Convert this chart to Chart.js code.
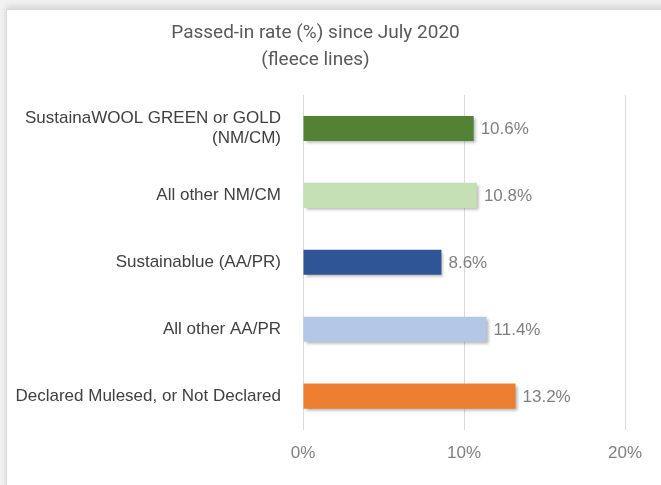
<!DOCTYPE html>
<html>
<head>
<meta charset="utf-8">
<script src="https://cdn.jsdelivr.net/npm/chart.js@4"></script>
<style>
  html, body { margin: 0; padding: 0; background: #f2f2f2; }
  #card { position: absolute; left: 6px; top: 9px; width: 661px; height: 480px; background: #fff;
          border: 1px solid #d9d9d9; box-shadow: 0 -3px 6px rgba(0,0,0,0.12); }
  #wrap { position: absolute; left: 0; top: 0; width: 661px; height: 485px; }
</style>
</head>
<body>
<div id="card"></div>
<div id="wrap"><canvas id="chart" width="661" height="485"></canvas></div>
<script>
var categories = [
  ['SustainaWOOL GREEN or GOLD', '(NM/CM)'],
  'All other NM/CM',
  'Sustainablue (AA/PR)',
  'All other AA/PR',
  'Declared Mulesed, or Not Declared'
];
var passedInRate = [10.6, 10.8, 8.6, 11.4, 13.2];
var barColors = ['#548235', '#c5e0b4', '#2f5597', '#b4c7e7', '#ed7d31'];
var xTicks = [0, 10, 20];

var FONT = "'Liberation Sans', Arial, sans-serif";
var TITLE_FONT = "Roboto, 'Liberation Sans', sans-serif";

// Draw value labels at the end of each bar
var valueLabels = {
  id: 'valueLabels',
  afterDatasetsDraw: function(chart) {
    var ctx = chart.ctx;
    var meta = chart.getDatasetMeta(0);
    ctx.save();
    ctx.font = '17px ' + FONT;
    ctx.fillStyle = '#7f7f7f';
    ctx.textBaseline = 'middle';
    meta.data.forEach(function(bar, i) {
      ctx.fillText(passedInRate[i].toFixed(1) + '%', bar.x + 7, bar.y + 1);
    });
    ctx.restore();
  }
};

// Soft shadow under bars
var barShadow = {
  id: 'barShadow',
  beforeDatasetsDraw: function(chart) {
    chart.ctx.save();
    chart.ctx.shadowColor = 'rgba(0,0,0,0.3)';
    chart.ctx.shadowBlur = 3;
    chart.ctx.shadowOffsetX = 2;
    chart.ctx.shadowOffsetY = 2;
  },
  afterDatasetsDraw: function(chart) {
    chart.ctx.restore();
  }
};

new Chart(document.getElementById('chart').getContext('2d'), {
  type: 'bar',
  data: {
    labels: categories,
    datasets: [{
      data: passedInRate,
      backgroundColor: barColors,
      barPercentage: 0.75,
      categoryPercentage: 0.5
    }]
  },
  plugins: [barShadow, valueLabels],
  options: {
    indexAxis: 'y',
    responsive: false,
    animation: false,
    layout: { padding: { left: 6, right: 36, top: 20, bottom: 7 } },
    plugins: {
      legend: { display: false },
      tooltip: { enabled: false },
      title: {
        display: true,
        text: ['Passed-in rate (%) since July 2020', '(fleece lines)'],
        color: '#595959',
        font: { family: TITLE_FONT, size: 19, weight: 'normal', lineHeight: 1.42 },
        padding: { top: 0, bottom: 21 }
      }
    },
    scales: {
      x: {
        min: 0,
        max: 20,
        afterBuildTicks: function(axis) {
          axis.ticks = xTicks.map(function(v) { return { value: v }; });
        },
        grid: { color: '#d9d9d9', drawTicks: false },
        border: { display: false },
        ticks: {
          color: '#7f7f7f',
          padding: 14,
          font: { family: FONT, size: 17 },
          callback: function(v) { return v + '%'; }
        }
      },
      y: {
        afterFit: function(axis) { axis.width = 297; },
        grid: { display: false },
        border: { display: false },
        ticks: {
          color: '#404040',
          padding: 14,
          font: { family: FONT, size: 17 }
        }
      }
    }
  }
});
</script>
</body>
</html>
